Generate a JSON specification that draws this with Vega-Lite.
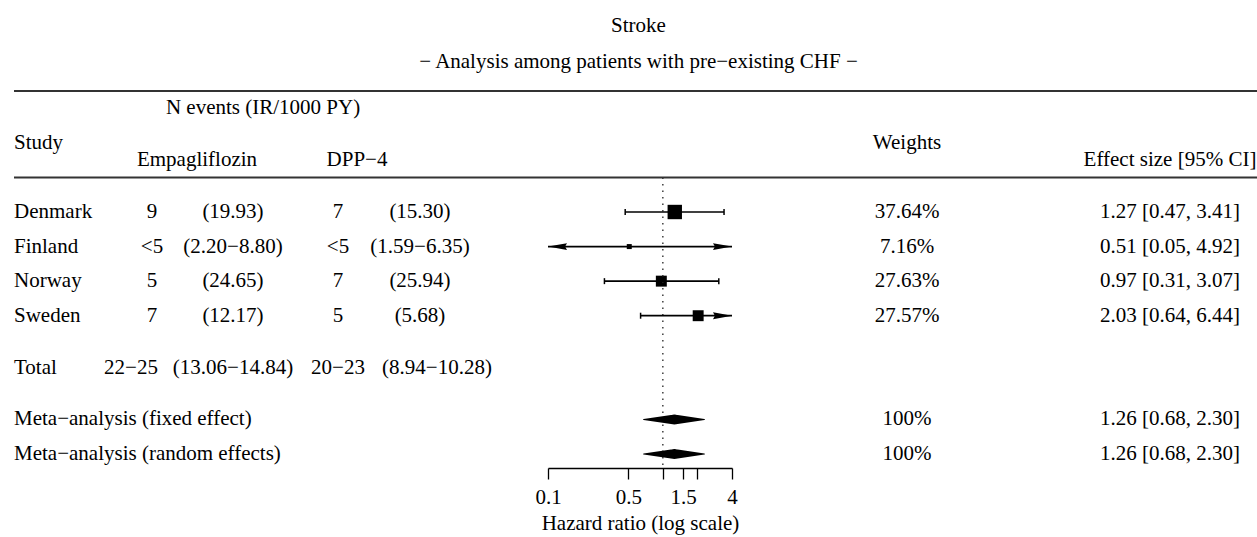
{
  "$schema": "https://vega.github.io/schema/vega-lite/v6.json",
  "width": 1257,
  "height": 391,
  "autosize": {"type": "none"},
  "padding": {"left": 0, "right": 0, "top": 77, "bottom": 69},
  "background": "white",
  "title": {
    "text": "Stroke",
    "subtitle": "− Analysis among patients with pre−existing CHF −",
    "anchor": "middle",
    "frame": "group",
    "offset": 5,
    "dx": 10,
    "font": "Liberation Serif",
    "fontSize": 21,
    "fontWeight": "normal",
    "color": "#000",
    "subtitleFont": "Liberation Serif",
    "subtitleFontSize": 21,
    "subtitleColor": "#000",
    "subtitlePadding": 15
  },
  "config": {
    "view": {"stroke": null},
    "text": {"font": "Liberation Serif", "fontSize": 21, "color": "#000", "baseline": "middle"}
  },
  "datasets": {
    "studies": [
      {"row": "Denmark", "kind": "study", "empaN": "9", "empaIR": "19.93", "dppN": "7", "dppIR": "15.30", "weight": 0.3764, "hr": 1.27, "lo": 0.47, "hi": 3.41},
      {"row": "Finland", "kind": "study", "empaN": "<5", "empaIR": "2.20−8.80", "dppN": "<5", "dppIR": "1.59−6.35", "weight": 0.0716, "hr": 0.51, "lo": 0.05, "hi": 4.92},
      {"row": "Norway", "kind": "study", "empaN": "5", "empaIR": "24.65", "dppN": "7", "dppIR": "25.94", "weight": 0.2763, "hr": 0.97, "lo": 0.31, "hi": 3.07},
      {"row": "Sweden", "kind": "study", "empaN": "7", "empaIR": "12.17", "dppN": "5", "dppIR": "5.68", "weight": 0.2757, "hr": 2.03, "lo": 0.64, "hi": 6.44},
      {"row": "Total", "kind": "total", "empaN": "22−25", "empaIR": "13.06−14.84", "dppN": "20−23", "dppIR": "8.94−10.28"},
      {"row": "Meta−analysis (fixed effect)", "kind": "meta", "weight": 1, "hr": 1.26, "lo": 0.68, "hi": 2.30},
      {"row": "Meta−analysis (random effects)", "kind": "meta", "weight": 1, "hr": 1.26, "lo": 0.68, "hi": 2.30}
    ],
    "headers": [
      {"row": "hdr1", "col": "nevents", "label": "N events (IR/1000 PY)"},
      {"row": "hdr2", "col": "study", "label": "Study"},
      {"row": "hdr3", "col": "empa", "label": "Empagliflozin"},
      {"row": "hdr3", "col": "dpp", "label": "DPP−4"},
      {"row": "hdr2", "col": "weights", "label": "Weights"},
      {"row": "hdr3", "col": "effect", "label": "Effect size [95% CI]"}
    ]
  },
  "encoding": {
    "y": {
      "field": "row",
      "type": "nominal",
      "scale": {
        "type": "point",
        "padding": 0.81,
        "domain": ["line1", "hdr1", "gapA", "hdr2", "hdr3", "line2", "gapB", "Denmark", "gapC", "Finland", "gapD", "Norway", "gapE", "Sweden", "gapF", "gapG", "Total", "gapH", "gapI", "Meta−analysis (fixed effect)", "gapJ", "Meta−analysis (random effects)"]
      },
      "axis": null
    }
  },
  "layer": [
    {
      "data": {"name": "studies"},
      "transform": [{"filter": "datum.kind === 'study'"}],
      "mark": {"type": "point", "shape": "square", "filled": true, "color": "#000", "opacity": 1, "strokeWidth": 0},
      "encoding": {
        "x": {
          "field": "hr",
          "type": "quantitative",
          "scale": {"type": "log", "domain": [0.1, 4], "range": [548, 732], "clamp": true, "nice": false},
          "axis": {
            "orient": "bottom",
            "values": [0.1, 0.5, 1, 1.5, 2, 4],
            "format": "~g",
            "labelExpr": "datum.value == 1 || datum.value == 2 ? '' : datum.label",
            "domainColor": "#000",
            "domainWidth": 1.3,
            "tickColor": "#000",
            "tickWidth": 1.3,
            "tickSize": 11,
            "labelFont": "Liberation Serif",
            "labelFontSize": 21,
            "labelColor": "#000",
            "labelPadding": 7,
            "labelOverlap": false,
            "labelFlush": false,
            "labelBound": false,
            "grid": false,
            "title": "Hazard ratio (log scale)",
            "titleFont": "Liberation Serif",
            "titleFontSize": 21,
            "titleFontWeight": "normal",
            "titleColor": "#000",
            "titlePadding": 5
          }
        },
        "size": {"field": "weight", "type": "quantitative", "scale": {"type": "pow", "exponent": 2, "domain": [0.0716, 0.3764], "range": [25, 207]}, "legend": null}
      }
    },
    {
      "data": {"values": [{}]},
      "mark": {"type": "rule", "strokeDash": [1.5, 5], "strokeWidth": 1.3, "color": "#222"},
      "encoding": {
        "x": {"datum": 1, "type": "quantitative", "scale": {"type": "log", "domain": [0.1, 4], "range": [548, 732], "clamp": true, "nice": false}, "axis": null},
        "y": {"datum": "line2", "type": "nominal"},
        "y2": {"value": "height"}
      }
    },
    {
      "data": {"name": "studies"},
      "transform": [{"filter": "datum.kind === 'study'"}],
      "mark": {"type": "rule", "strokeWidth": 1.7, "color": "#000"},
      "encoding": {
        "x": {"field": "lo", "type": "quantitative", "scale": {"type": "log", "domain": [0.1, 4], "range": [548, 732], "clamp": true, "nice": false}, "axis": null},
        "x2": {"field": "hi"}
      }
    },
    {
      "data": {"name": "studies"},
      "transform": [
        {"filter": "datum.kind === 'study'"},
        {"fold": ["lo", "hi"], "as": ["end", "v"]},
        {"filter": "datum.v >= 0.1 && datum.v <= 4"}
      ],
      "mark": {"type": "tick", "orient": "vertical", "size": 6, "thickness": 1.5, "color": "#000", "opacity": 1},
      "encoding": {
        "x": {"field": "v", "type": "quantitative", "scale": {"type": "log", "domain": [0.1, 4], "range": [548, 732], "clamp": true, "nice": false}, "axis": null}
      }
    },
    {
      "data": {"name": "studies"},
      "transform": [{"filter": "datum.kind === 'study' && datum.lo < 0.1"}],
      "mark": {"type": "point", "shape": "M0,0L2,-0.36L1.8,0L2,0.36Z", "filled": true, "size": 361, "color": "#000", "opacity": 1, "strokeWidth": 0},
      "encoding": {
        "x": {"field": "lo", "type": "quantitative", "scale": {"type": "log", "domain": [0.1, 4], "range": [548, 732], "clamp": true, "nice": false}, "axis": null}
      }
    },
    {
      "data": {"name": "studies"},
      "transform": [{"filter": "datum.kind === 'study' && datum.hi > 4"}],
      "mark": {"type": "point", "shape": "M0,0L-2,-0.36L-1.8,0L-2,0.36Z", "filled": true, "size": 361, "color": "#000", "opacity": 1, "strokeWidth": 0},
      "encoding": {
        "x": {"field": "hi", "type": "quantitative", "scale": {"type": "log", "domain": [0.1, 4], "range": [548, 732], "clamp": true, "nice": false}, "axis": null}
      }
    },
    {
      "data": {"name": "studies"},
      "transform": [{"filter": "datum.kind === 'meta'"}, {"fold": ["lo", "hr", "hi"], "as": ["vertex", "v"]}, {"calculate": "datum.vertex === 'hr' ? 1 : 0", "as": "w"}],
      "mark": {"type": "trail", "color": "#000"},
      "encoding": {
        "x": {"field": "v", "type": "quantitative", "scale": {"type": "log", "domain": [0.1, 4], "range": [548, 732], "clamp": true, "nice": false}, "axis": null},
        "size": {"field": "w", "type": "quantitative", "scale": {"domain": [0, 1], "range": [0, 10]}, "legend": null},
        "detail": {"field": "row"},
        "order": {"field": "v", "type": "quantitative"}
      }
    },
    {
      "encoding": {"x": {"datum": "Study", "type": "nominal", "scale": {"type": "point", "domain": ["Study"], "range": [0, 28]}, "axis": null}},
      "layer": [
        {"data": {"values": [{"row": "line1"}, {"row": "line2"}]}, "mark": {"type": "rule", "strokeWidth": 2, "color": "#333"}, "encoding": {"x2": {"value": "width"}}},
        {"data": {"name": "studies"}, "mark": {"type": "text", "align": "left"}, "encoding": {"text": {"field": "row"}}},
        {"data": {"name": "headers"}, "transform": [{"filter": "datum.col === 'study'"}], "mark": {"type": "text", "align": "left"}, "encoding": {"text": {"field": "label"}}}
      ]
    },
    {
      "data": {"name": "studies"},
      "transform": [{"filter": "datum.kind === 'study'"}],
      "mark": {"type": "text"},
      "encoding": {
        "x": {"datum": "Empagliflozin N", "type": "nominal", "scale": {"type": "point", "domain": ["Empagliflozin N"], "range": [132, 172]}, "axis": null},
        "text": {"field": "empaN"}
      }
    },
    {
      "data": {"name": "studies"},
      "transform": [{"filter": "datum.kind === 'total'"}],
      "mark": {"type": "text"},
      "encoding": {
        "x": {"datum": "Empagliflozin N total", "type": "nominal", "scale": {"type": "point", "domain": ["Empagliflozin N total"], "range": [111, 151]}, "axis": null},
        "text": {"field": "empaN"}
      }
    },
    {
      "data": {"name": "studies"},
      "transform": [{"filter": "datum.kind !== 'meta'"}, {"calculate": "'(' + datum.empaIR + ')'", "as": "empaIRlabel"}],
      "mark": {"type": "text"},
      "encoding": {
        "x": {"datum": "Empagliflozin IR", "type": "nominal", "scale": {"type": "point", "domain": ["Empagliflozin IR"], "range": [213, 253]}, "axis": null},
        "text": {"field": "empaIRlabel"}
      }
    },
    {
      "data": {"name": "studies"},
      "transform": [{"filter": "datum.kind !== 'meta'"}],
      "mark": {"type": "text"},
      "encoding": {
        "x": {"datum": "DPP-4 N", "type": "nominal", "scale": {"type": "point", "domain": ["DPP-4 N"], "range": [318, 358]}, "axis": null},
        "text": {"field": "dppN"}
      }
    },
    {
      "data": {"name": "studies"},
      "transform": [{"filter": "datum.kind === 'study'"}, {"calculate": "'(' + datum.dppIR + ')'", "as": "dppIRlabel"}],
      "mark": {"type": "text"},
      "encoding": {
        "x": {"datum": "DPP-4 IR", "type": "nominal", "scale": {"type": "point", "domain": ["DPP-4 IR"], "range": [400, 440]}, "axis": null},
        "text": {"field": "dppIRlabel"}
      }
    },
    {
      "data": {"name": "studies"},
      "transform": [{"filter": "datum.kind === 'total'"}, {"calculate": "'(' + datum.dppIR + ')'", "as": "dppIRlabel"}],
      "mark": {"type": "text"},
      "encoding": {
        "x": {"datum": "DPP-4 IR total", "type": "nominal", "scale": {"type": "point", "domain": ["DPP-4 IR total"], "range": [417, 457]}, "axis": null},
        "text": {"field": "dppIRlabel"}
      }
    },
    {
      "data": {"name": "headers"},
      "transform": [{"filter": "datum.col === 'empa'"}],
      "mark": {"type": "text"},
      "encoding": {
        "x": {"datum": "Empagliflozin", "type": "nominal", "scale": {"type": "point", "domain": ["Empagliflozin"], "range": [177, 217]}, "axis": null},
        "text": {"field": "label"}
      }
    },
    {
      "data": {"name": "headers"},
      "transform": [{"filter": "datum.col === 'dpp'"}],
      "mark": {"type": "text"},
      "encoding": {
        "x": {"datum": "DPP-4", "type": "nominal", "scale": {"type": "point", "domain": ["DPP-4"], "range": [337, 377]}, "axis": null},
        "text": {"field": "label"}
      }
    },
    {
      "data": {"name": "headers"},
      "transform": [{"filter": "datum.col === 'nevents'"}],
      "mark": {"type": "text"},
      "encoding": {
        "x": {"datum": "N events", "type": "nominal", "scale": {"type": "point", "domain": ["N events"], "range": [243, 283]}, "axis": null},
        "text": {"field": "label"}
      }
    },
    {
      "encoding": {"x": {"datum": "Weights", "type": "nominal", "scale": {"type": "point", "domain": ["Weights"], "range": [887, 927]}, "axis": null}},
      "layer": [
        {"data": {"name": "studies"}, "transform": [{"filter": "datum.kind !== 'total'"}], "mark": {"type": "text"}, "encoding": {"text": {"field": "weight", "type": "quantitative", "format": "~%"}}},
        {"data": {"name": "headers"}, "transform": [{"filter": "datum.col === 'weights'"}], "mark": {"type": "text"}, "encoding": {"text": {"field": "label"}}}
      ]
    },
    {
      "encoding": {"x": {"datum": "Effect size", "type": "nominal", "scale": {"type": "point", "domain": ["Effect size"], "range": [1150, 1190]}, "axis": null}},
      "layer": [
        {"data": {"name": "studies"}, "transform": [{"filter": "datum.kind !== 'total'"}, {"calculate": "format(datum.hr, '.2f') + ' [' + format(datum.lo, '.2f') + ', ' + format(datum.hi, '.2f') + ']'", "as": "effect"}], "mark": {"type": "text"}, "encoding": {"text": {"field": "effect"}}},
        {"data": {"name": "headers"}, "transform": [{"filter": "datum.col === 'effect'"}], "mark": {"type": "text"}, "encoding": {"text": {"field": "label"}}}
      ]
    }
  ],
  "resolve": {"scale": {"x": "independent", "size": "independent"}, "axis": {"x": "independent"}}
}
